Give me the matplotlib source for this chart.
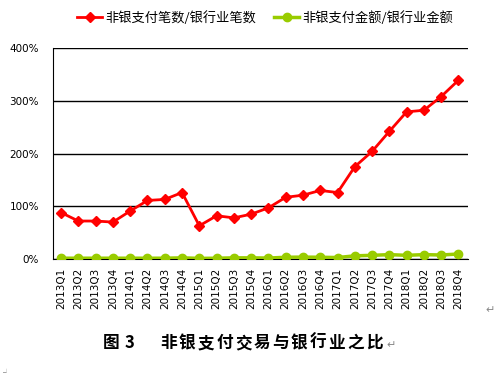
import numpy as np
import matplotlib.pyplot as plt
from matplotlib.ticker import FuncFormatter

plt.rcParams['font.family'] = ['Noto Sans CJK SC', 'DejaVu Sans']

# quarters and ratios (%)
quarters = ['2013Q1', '2013Q2', '2013Q3', '2013Q4', '2014Q1', '2014Q2', '2014Q3', '2014Q4',
            '2015Q1', '2015Q2', '2015Q3', '2015Q4', '2016Q1', '2016Q2', '2016Q3', '2016Q4',
            '2017Q1', '2017Q2', '2017Q3', '2017Q4', '2018Q1', '2018Q2', '2018Q3', '2018Q4']
count_ratio = [88, 72, 72, 70, 91, 111, 113, 126,
               63, 82, 78, 85, 97, 117, 121, 130,
               126, 175, 204, 242, 279, 282, 308, 339]
amount_ratio = [1.5, 1.5, 1.5, 1.5, 1.5, 1.5, 1.5, 2.2,
                1.2, 1.5, 2.2, 2.2, 1.8, 3.3, 3.6, 3.3,
                2.8, 6.0, 7.0, 8.3, 7.0, 8.3, 7.6, 9.5]

count_label = '非银支付笔数/银行业笔数'
amount_label = '非银支付金额/银行业金额'
caption_head = ['图', '3']
caption_body = '非银支付交易与银行业之比'

W, H = 498, 379
fig = plt.figure(figsize=(W / 100, H / 100), dpi=100)
ax = fig.add_axes([0.1064, 0.3166, 0.8333, 0.5567])

x = np.arange(len(quarters))
ax.plot(x, count_ratio, color='#ff0000', lw=2, marker='D', ms=5,
        label=count_label, zorder=3)
ax.plot(x, amount_ratio, color='#99cc00', lw=2.5, marker='o', ms=6,
        label=amount_label, zorder=3)

ax.set_xlim(-0.47, 23.55)
ax.set_ylim(0, 400)
ax.set_yticks([0, 100, 200, 300, 400])
ax.yaxis.set_major_formatter(FuncFormatter(lambda v, p: f'{v:.0f}%'))
ax.grid(axis='y', color='black', lw=1)
ax.set_axisbelow(True)

ax.set_xticks(x)
ax.set_xticklabels(quarters, rotation=90, fontsize=7.5, family='DejaVu Sans')
ax.tick_params(axis='x', length=0, pad=6)
ax.tick_params(axis='y', length=0, pad=10, labelsize=7.5)
for lab in ax.get_yticklabels():
    lab.set_family('DejaVu Sans')

ax.spines['right'].set_visible(False)
ax.spines['top'].set_visible(False)
ax.spines['left'].set_color('black')
ax.spines['bottom'].set_color('black')

fig.legend(loc='center', bbox_to_anchor=(0.532, 0.952), ncol=2, frameon=False,
           fontsize=9.5, handlelength=1.9, handletextpad=0.2, columnspacing=1.4,
           borderpad=0)

# caption, Word-style spaced characters
cy = 1 - 343 / H
fig.text(111.5 / W, cy, caption_head[0], ha='center', va='center', fontsize=12, fontweight='bold')
fig.text(129 / W, cy, caption_head[1], ha='center', va='center', fontsize=12, fontweight='bold')
for i, ch in enumerate(caption_body):
    fig.text((159 + 9.35 + 18.7 * i) / W, cy, ch, ha='center', va='center',
             fontsize=12, fontweight='bold')
fig.text(386 / W, cy - 0.005, '↵', ha='left', va='center', fontsize=8, color='#888888')
fig.text(490 / W, 1 - 310 / H, '↵', ha='center', va='center', fontsize=8, color='#888888')
fig.text(0.006, 0.015, '┘', ha='left', va='center', fontsize=5, color='#888888')

fig.savefig('out.png', dpi=100)
